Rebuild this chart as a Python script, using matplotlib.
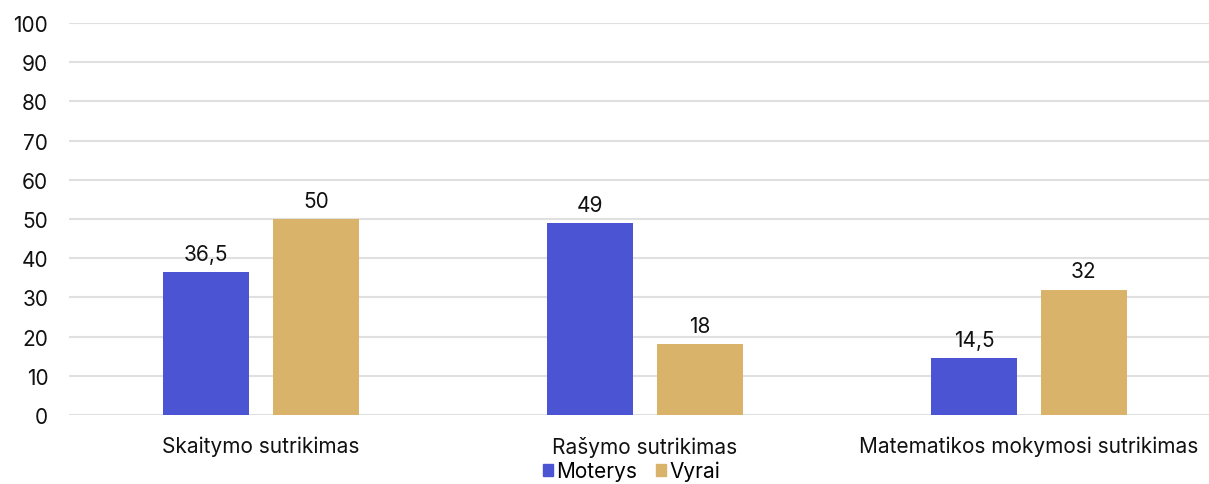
import matplotlib
matplotlib.use("Agg")
import matplotlib.pyplot as plt
import numpy as np

plt.rcParams['font.family'] = ['Inter', 'DejaVu Sans']

categories = ["Skaitymo sutrikimas", "Rašymo sutrikimas", "Matematikos mokymosi sutrikimas"]
series_names = ["Moterys", "Vyrai"]
moterys = [36.5, 49, 14.5]
vyrai = [50, 18, 32]
y_ticks = [0, 10, 20, 30, 40, 50, 60, 70, 80, 90, 100]

colors = ["#4B55D4", "#DAB36A"]
text_color = "#111111"

fig = plt.figure(figsize=(12.09, 4.85), dpi=100)
ax = fig.add_axes([0.0571, 0.1423, 0.9429, 0.8082])

x = np.arange(len(categories))
width = 0.224
offset = 0.143

def fmt(v):
    return f"{v:g}".replace(".", ",")

for vals, off, col in zip([moterys, vyrai], [-offset, offset], colors):
    bars = ax.bar(x + off, vals, width, color=col, zorder=3)
    for b, v in zip(bars, vals):
        ax.annotate(fmt(v), (b.get_x() + b.get_width() / 2, v),
                    xytext=(0, 6), textcoords="offset points",
                    ha="center", va="bottom", fontsize=15, color=text_color)

ax.set_xlim(-0.5, 2.469)
ax.set_ylim(0, 100)
ax.set_yticks(y_ticks)
ax.set_yticklabels([str(t) for t in y_ticks], fontsize=15, color=text_color)
ax.set_xticks(x)
ax.set_xticklabels(categories, fontsize=15, color=text_color)
ax.tick_params(axis='y', length=0, pad=15)
ax.tick_params(axis='x', length=0, pad=15)
ax.grid(axis='y', color="#E0E0E0", linewidth=1.5, zorder=0)
for s in ax.spines.values():
    s.set_visible(False)

handles = [plt.Rectangle((0, 0), 1, 1, color=c) for c in colors]
fig.legend(handles, series_names, loc="center", bbox_to_anchor=(0.5225, 0.027),
           ncol=2, frameon=False, fontsize=15, handlelength=0.48, handleheight=0.48,
           handletextpad=0.18, columnspacing=0.9, borderpad=0.0)

fig.savefig("out.png", dpi=100)
